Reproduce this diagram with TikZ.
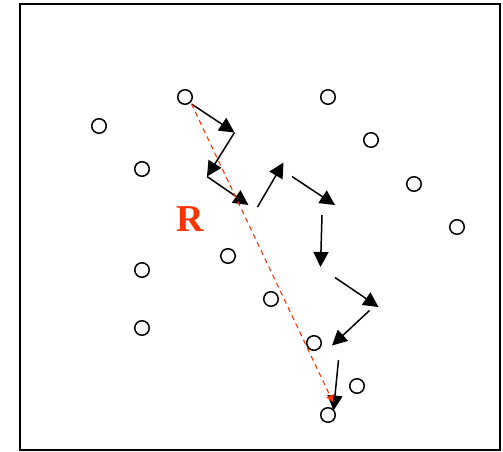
\documentclass[tikz,border=0pt]{standalone}
\usepackage{fontspec}
\setmainfont{Liberation Serif}
\usetikzlibrary{arrows.meta}
\definecolor{rred}{RGB}{255,51,0}

\begin{document}
\begin{tikzpicture}[x=1pt,y=-1pt,
        site/.style={draw, line width=1.5pt, circle, minimum size=14.5pt, inner sep=0pt},
        hop/.style={line width=1.5pt, -{Triangle[length=15pt,width=15pt]}},
        span/.style={line width=1.1pt, color=rred, dash pattern=on 5pt off 4pt, -{Triangle[length=7pt,width=8pt]}}]

                \useasboundingbox (0,0) rectangle (503,451);
                \draw[line width=1.2pt] (20,4) rectangle (500,450);

                % sites
                \node[site] (s1) at (185,97) {};
                \node[site] (s2) at (328,97) {};
                \node[site] (s3) at (99,126) {};
                \node[site] (s4) at (371,140) {};
                \node[site] (s5) at (142,169) {};
                \node[site] (s6) at (414,184) {};
                \node[site] (s7) at (457,227) {};
                \node[site] (s8) at (228,256) {};
                \node[site] (s9) at (142,270) {};
                \node[site] (s10) at (271,299) {};
                \node[site] (s11) at (142,328) {};
                \node[site] (s12) at (314,343) {};
                \node[site] (s13) at (357,386) {};
                \node[site] (s14) at (328,415) {};

                % walk
                \coordinate (w0) at (191.5,104);
                \coordinate (w1) at (234.5,132.5);
                \coordinate (w2) at (207,176.5);
                \coordinate (w3) at (248.5,205);
                \coordinate (w4a) at (257.5,207);
                \coordinate (w4) at (283.5,162.5);
                \coordinate (w5a) at (292,176.5);
                \coordinate (w5) at (335,205);
                \coordinate (w6a) at (322,215);
                \coordinate (w6) at (320.5,267);
                \coordinate (w7a) at (335,277.5);
                \coordinate (w7) at (378.5,307);
                \coordinate (w8a) at (369.5,310.5);
                \coordinate (w8) at (332,345.5);
                \coordinate (w9a) at (338.5,360);
                \coordinate (w9) at (333.5,410.5);
                \coordinate (end) at (333,402);

                \draw[hop] (w0) -- (w1);
                \draw[hop] (w1) -- (w2);
                \draw[hop] (w2) -- (w3);
                \draw[hop] (w4a) -- (w4);
                \draw[hop] (w5a) -- (w5);
                \draw[hop] (w6a) -- (w6);
                \draw[hop] (w7a) -- (w7);
                \draw[hop] (w8a) -- (w8);
                \draw[hop] (w9a) -- (w9);

                \draw[span] (w0) -- (end);
                \node[color=rred, font=\fontsize{38}{38}\selectfont\bfseries] (R) at (190.5,219) {R};
            \end{tikzpicture}
\end{document}
